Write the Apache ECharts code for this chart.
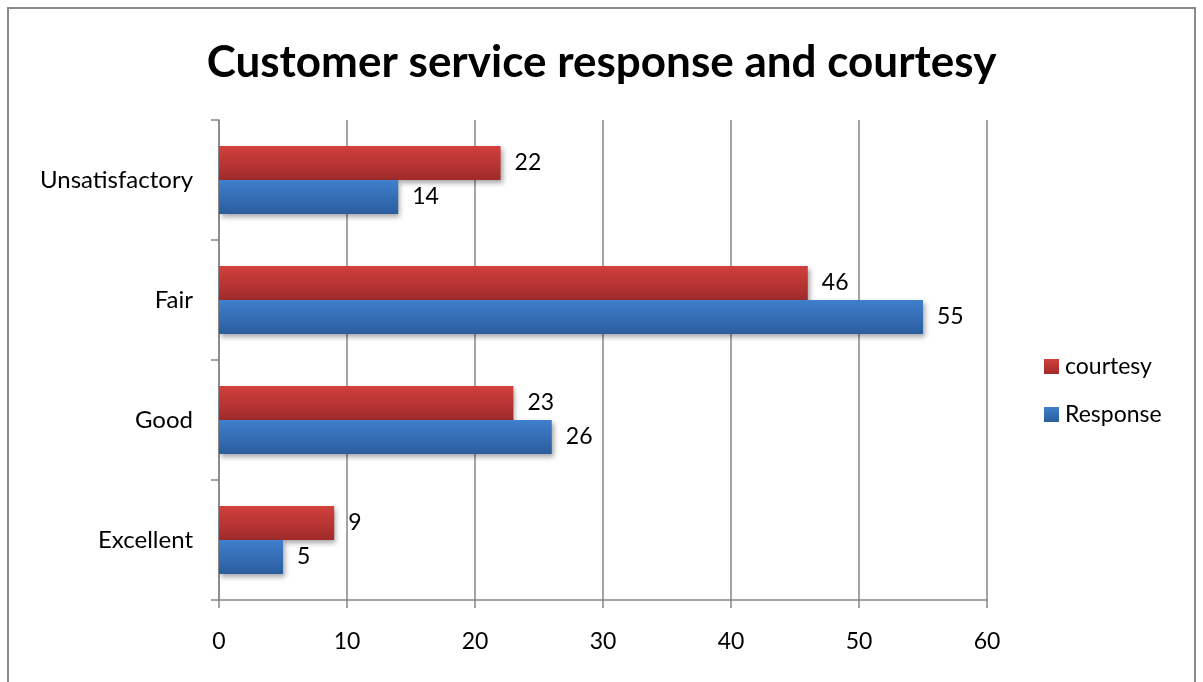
<!DOCTYPE html>
<html>
<head>
<meta charset="utf-8">
<script src="https://cdn.jsdelivr.net/npm/echarts@6/dist/echarts.min.js"></script>
<style>
  html, body { margin: 0; padding: 0; background: #ffffff; }
  #chart { width: 1203px; height: 682px; }
</style>
</head>
<body>
<div id="chart"></div>
<script>
// Ratings, bottom to top along the category axis
const categories = ['Excellent', 'Good', 'Fair', 'Unsatisfactory'];
const courtesyValues = [9, 23, 46, 22];
const responseValues = [5, 26, 55, 14];
const xTicks = { min: 0, max: 60, interval: 10 };

const FONT = 'Lato, "Open Sans", sans-serif';

function barGradient(top, bottom) {
  return new echarts.graphic.LinearGradient(0, 0, 0, 1, [
    { offset: 0, color: top },
    { offset: 1, color: bottom }
  ]);
}

const labelStyle = {
  show: true,
  position: 'right',
  distance: 14,
  color: '#000',
  fontSize: 23,
  fontFamily: FONT,
  padding: [3, 0, 0, 0]
};

const barShadow = {
  shadowColor: 'rgba(0,0,0,0.35)',
  shadowBlur: 5,
  shadowOffsetX: 2,
  shadowOffsetY: 3
};

const chart = echarts.init(document.getElementById('chart'), null, { renderer: 'canvas' });

chart.setOption({
  backgroundColor: '#ffffff',
  animation: false,
  title: {
    text: 'Customer service response and courtesy',
    left: 'center',
    top: 36,
    textStyle: { fontFamily: FONT, fontWeight: 'bold', fontSize: 44, color: '#000' }
  },
  graphic: [{
    type: 'rect',
    shape: { x: 8, y: 8, width: 1187, height: 720 },
    style: { fill: 'none', stroke: '#8a8a8a', lineWidth: 2 },
    silent: true
  }],
  legend: {
    orient: 'vertical',
    left: 1039,
    top: 350,
    itemWidth: 15,
    itemHeight: 15,
    itemGap: 25,
    icon: 'rect',
    data: ['courtesy', 'Response'],
    textStyle: { fontFamily: FONT, fontSize: 23, color: '#000', padding: [0, 0, 0, 1] }
  },
  grid: { left: 219, right: 216, top: 120, bottom: 82, containLabel: false },
  xAxis: {
    type: 'value',
    min: xTicks.min,
    max: xTicks.max,
    interval: xTicks.interval,
    axisLine: { show: true, lineStyle: { color: '#868686', width: 1.5 } },
    axisTick: { show: true, length: 8, lineStyle: { color: '#868686', width: 1.5 } },
    axisLabel: { margin: 30, fontSize: 23, fontFamily: FONT, color: '#000' },
    splitLine: { show: true, lineStyle: { color: '#868686', width: 1.5 } }
  },
  yAxis: {
    type: 'category',
    data: categories,
    axisLine: { show: true, lineStyle: { color: '#868686', width: 1.5 } },
    axisTick: { show: true, length: 8, lineStyle: { color: '#868686', width: 1.5 } },
    axisLabel: { margin: 26, fontSize: 24, fontFamily: FONT, color: '#000' },
    splitLine: { show: false }
  },
  series: [
    {
      name: 'courtesy',
      type: 'bar',
      data: courtesyValues,
      barWidth: 34,
      barGap: '0%',
      itemStyle: Object.assign({ color: barGradient('#d2403d', '#a02b2b') }, barShadow),
      label: labelStyle
    },
    {
      name: 'Response',
      type: 'bar',
      data: responseValues,
      barWidth: 34,
      barGap: '0%',
      itemStyle: Object.assign({ color: barGradient('#3f7fcd', '#2b5d9e') }, barShadow),
      label: labelStyle
    }
  ]
});
</script>
</body>
</html>
